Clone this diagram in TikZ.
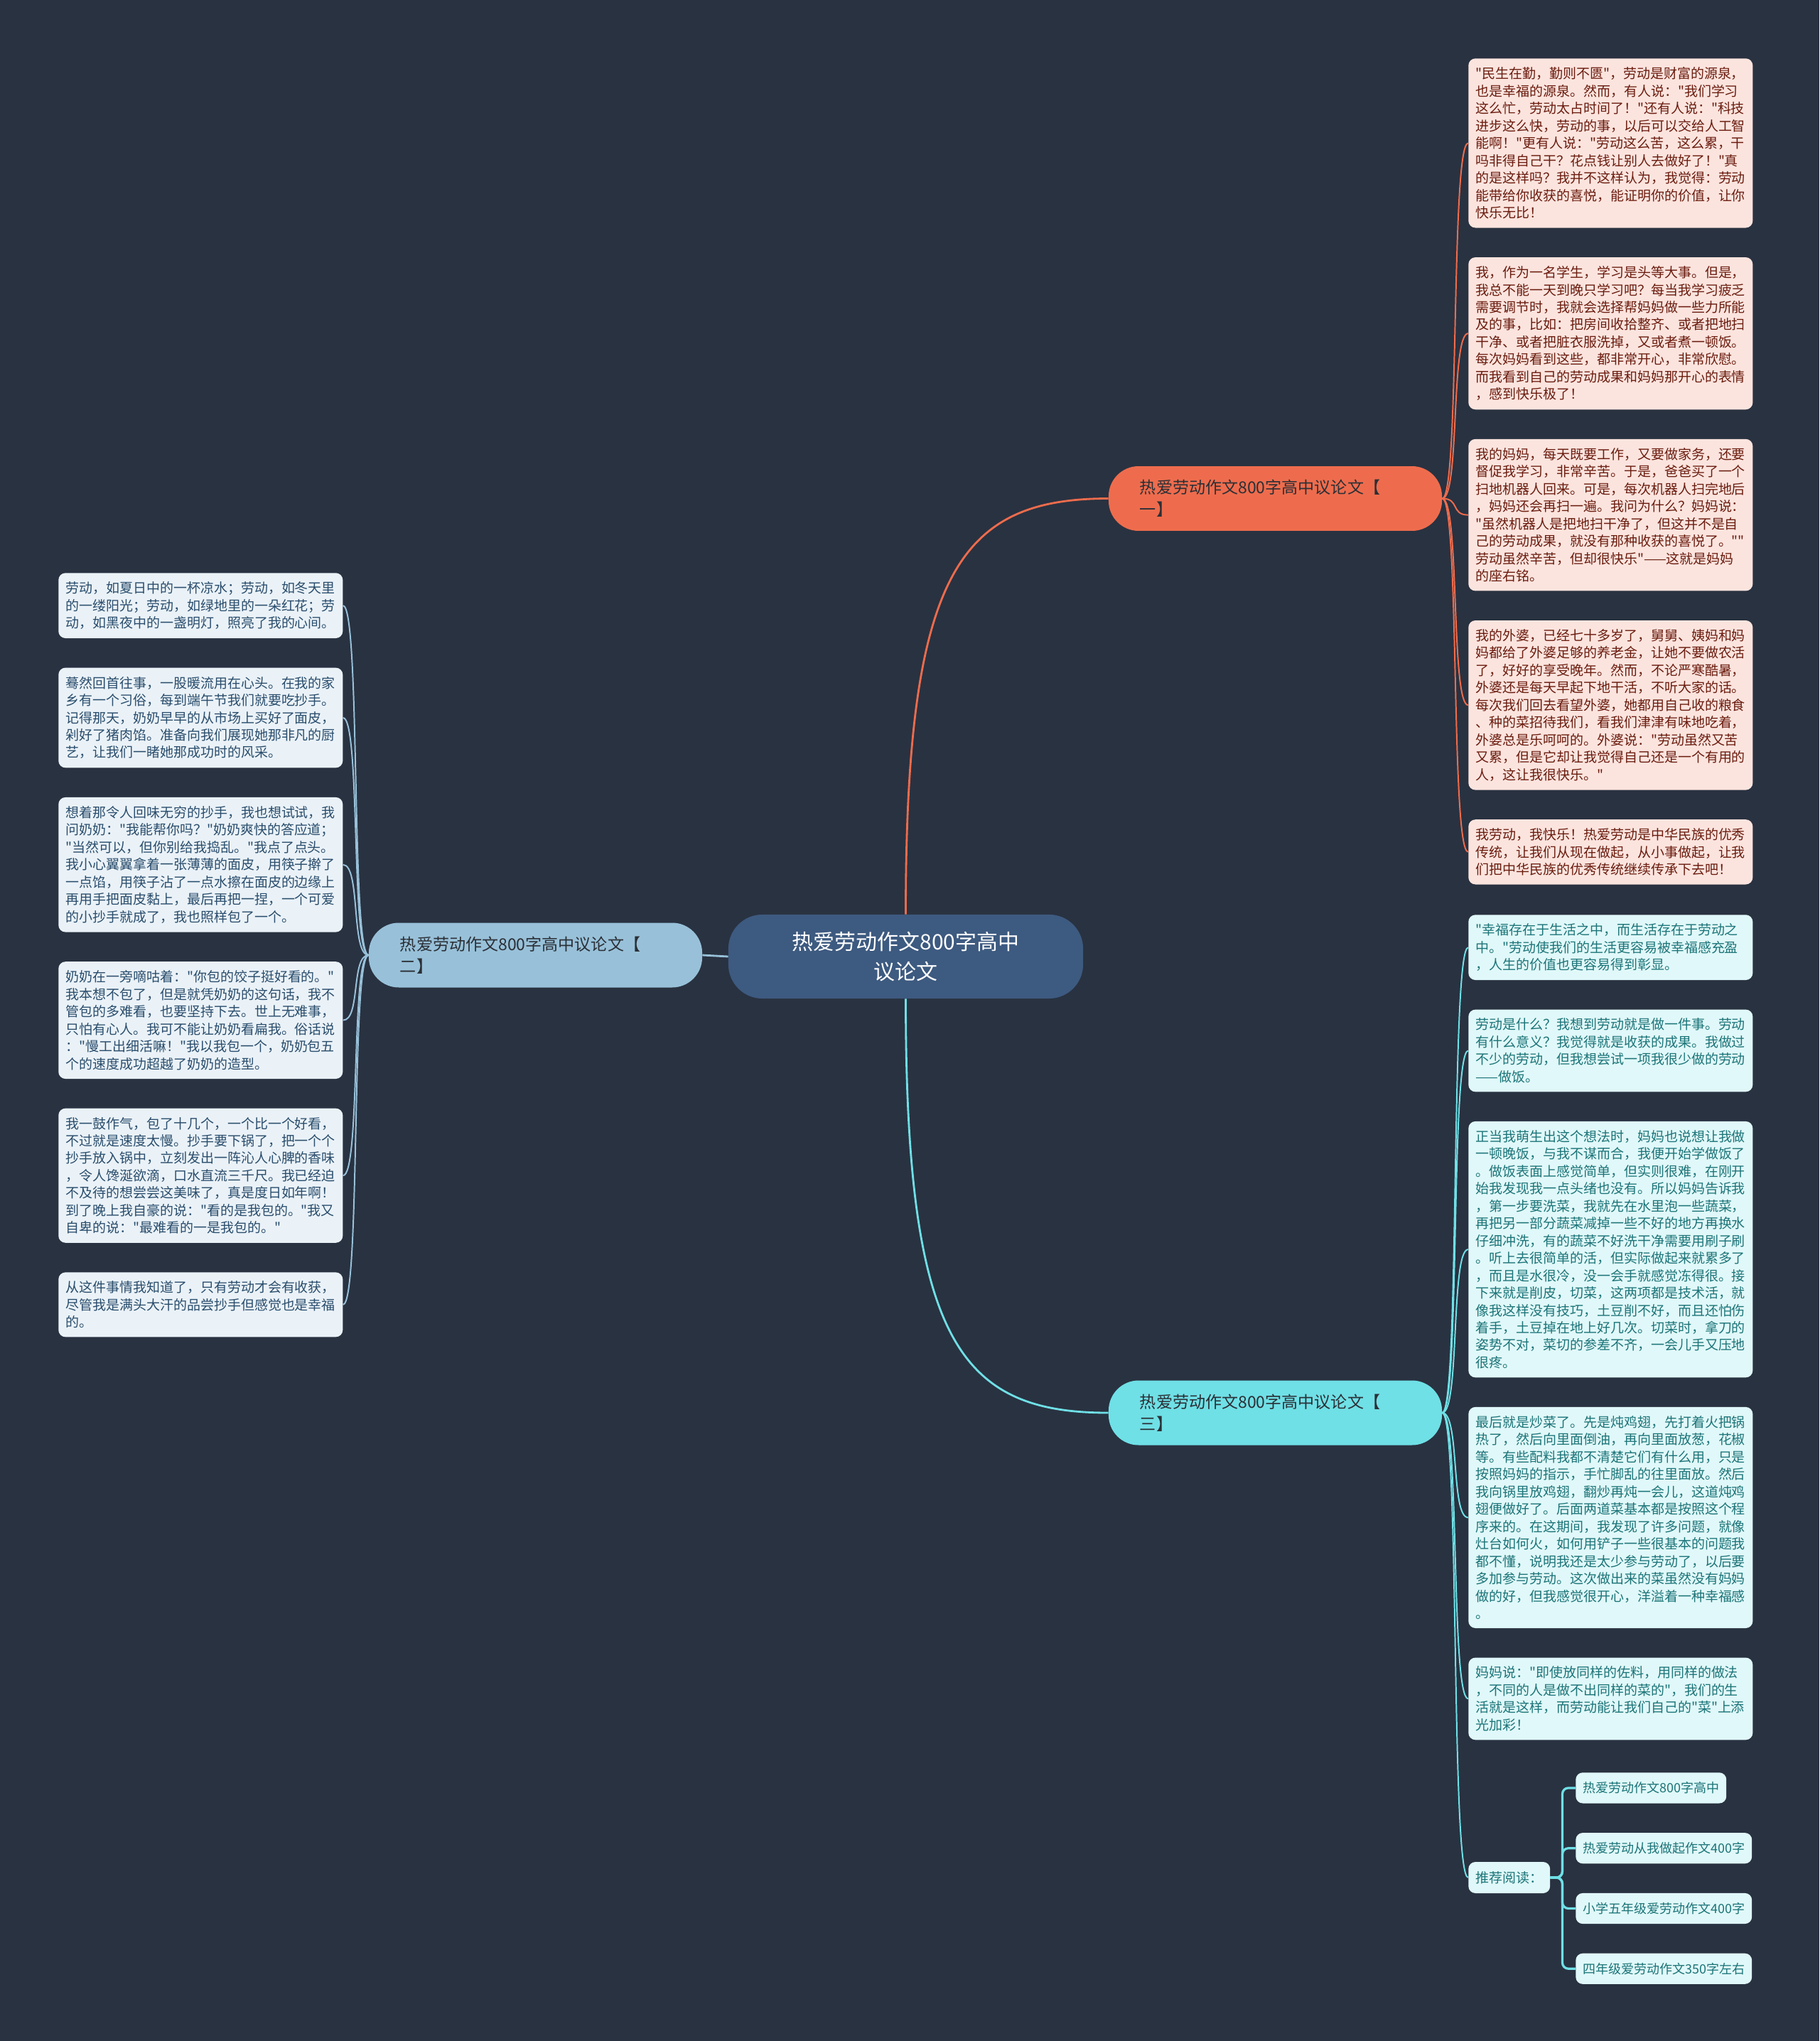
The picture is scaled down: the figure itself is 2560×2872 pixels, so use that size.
\documentclass[tikz,border=0pt]{standalone}
\usepackage{fontspec}
\newfontfamily\zhfont{Noto Sans CJK SC}
\usetikzlibrary{positioning}
\definecolor{bg}{HTML}{293241}
\definecolor{rootblue}{HTML}{3D5A80}
\definecolor{warm}{HTML}{EE6C4D}
\definecolor{sky}{HTML}{98C1D9}
\definecolor{aqua}{HTML}{6FE0E6}
\definecolor{warmpale}{HTML}{FCE4DE}
\definecolor{skypale}{HTML}{EAF2F8}
\definecolor{aquapale}{HTML}{E0F8F9}
\definecolor{warmink}{HTML}{6A1C0F}
\definecolor{skyink}{HTML}{2A4D6C}
\definecolor{aquaink}{HTML}{1C7478}
\definecolor{branchink}{HTML}{2B2F36}

\begin{document}
\begin{tikzpicture}[x=0.025cm,y=-0.025cm,node distance=1.025cm,
root/.style={fill=rootblue,text=white,rounded corners=34pt,align=center,minimum width=355pt,minimum height=84pt,font=\fontsize{21.3pt}{29.9pt}\zhfont},
branch/.style={rounded corners=30pt,align=left,text width=271pt,inner xsep=31.3pt,inner ysep=0pt,minimum height=64.7pt,text=branchink,font=\fontsize{16.4pt}{22pt}\zhfont},
leaf/.style={rounded corners=7pt,align=left,text width=270.3pt,inner xsep=7.1pt,inner ysep=8.8pt,font=\fontsize{13.5pt}{17.4pt}\zhfont},
warmleaf/.style={leaf,fill=warmpale,text=warmink},
skyleaf/.style={leaf,fill=skypale,text=skyink},
aqualeaf/.style={leaf,fill=aquapale,text=aquaink},
recbox/.style={rounded corners=7pt,fill=aquapale,text=aquaink,inner xsep=7.1pt,inner ysep=9.4pt,font=\fontsize{12.8pt}{17.4pt}\zhfont},
mainlink/.style={line width=2pt},
leaflink/.style={line width=1.4pt},
reclink/.style={draw=aqua,line width=2.3pt,rounded corners=6pt}]
\fill[bg] (0,0) rectangle (2560,2872);

\node[root] (root) at (1274.5,1346) {热爱劳动作文800字高中\\议论文};
\node[branch,fill=warm] (b1) at (1794.5,701.5) {热爱劳动作文800字高中议论文【\\一】};
\node[branch,fill=sky] (b2) at (753.5,1344) {热爱劳动作文800字高中议论文【\\二】};
\node[branch,fill=aqua] (b3) at (1794.5,1988) {热爱劳动作文800字高中议论文【\\三】};

\node[warmleaf,anchor=north west] (r1) at (2066,82) {"民生在勤，勤则不匮"，劳动是财富的源泉，\\也是幸福的源泉。然而，有人说："我们学习\\这么忙，劳动太占时间了！"还有人说："科技\\进步这么快，劳动的事，以后可以交给人工智\\能啊！"更有人说："劳动这么苦，这么累，干\\吗非得自己干？花点钱让别人去做好了！"真\\的是这样吗？我并不这样认为，我觉得：劳动\\能带给你收获的喜悦，能证明你的价值，让你\\快乐无比！};
\node[warmleaf,below=of r1] (r2) {我，作为一名学生，学习是头等大事。但是，\\我总不能一天到晚只学习吧？每当我学习疲乏\\需要调节时，我就会选择帮妈妈做一些力所能\\及的事，比如：把房间收拾整齐、或者把地扫\\干净、或者把脏衣服洗掉，又或者煮一顿饭。\\每次妈妈看到这些，都非常开心，非常欣慰。\\而我看到自己的劳动成果和妈妈那开心的表情\\，感到快乐极了！};
\node[warmleaf,below=of r2] (r3) {我的妈妈，每天既要工作，又要做家务，还要\\督促我学习，非常辛苦。于是，爸爸买了一个\\扫地机器人回来。可是，每次机器人扫完地后\\，妈妈还会再扫一遍。我问为什么？妈妈说：\\"虽然机器人是把地扫干净了，但这并不是自\\己的劳动成果，就没有那种收获的喜悦了。""\\劳动虽然辛苦，但却很快乐"——这就是妈妈\\的座右铭。};
\node[warmleaf,below=of r3] (r4) {我的外婆，已经七十多岁了，舅舅、姨妈和妈\\妈都给了外婆足够的养老金，让她不要做农活\\了，好好的享受晚年。然而，不论严寒酷暑，\\外婆还是每天早起下地干活，不听大家的话。\\每次我们回去看望外婆，她都用自己收的粮食\\、种的菜招待我们，看我们津津有味地吃着，\\外婆总是乐呵呵的。外婆说："劳动虽然又苦\\又累，但是它却让我觉得自己还是一个有用的\\人，这让我很快乐。"};
\node[warmleaf,below=of r4] (r5) {我劳动，我快乐！热爱劳动是中华民族的优秀\\传统，让我们从现在做起，从小事做起，让我\\们把中华民族的优秀传统继续传承下去吧！};

\node[skyleaf,anchor=north west] (l1) at (82,806) {劳动，如夏日中的一杯凉水；劳动，如冬天里\\的一缕阳光；劳动，如绿地里的一朵红花；劳\\动，如黑夜中的一盏明灯，照亮了我的心间。};
\node[skyleaf,below=of l1] (l2) {蓦然回首往事，一股暖流用在心头。在我的家\\乡有一个习俗，每到端午节我们就要吃抄手。\\记得那天，奶奶早早的从市场上买好了面皮，\\剁好了猪肉馅。准备向我们展现她那非凡的厨\\艺，让我们一睹她那成功时的风采。};
\node[skyleaf,below=of l2] (l3) {想着那令人回味无穷的抄手，我也想试试，我\\问奶奶："我能帮你吗？"奶奶爽快的答应道；\\"当然可以，但你别给我捣乱。"我点了点头。\\我小心翼翼拿着一张薄薄的面皮，用筷子擀了\\一点馅，用筷子沾了一点水擦在面皮的边缘上\\再用手把面皮黏上，最后再把一捏，一个可爱\\的小抄手就成了，我也照样包了一个。};
\node[skyleaf,below=of l3] (l4) {奶奶在一旁嘀咕着："你包的饺子挺好看的。"\\我本想不包了，但是就凭奶奶的这句话，我不\\管包的多难看，也要坚持下去。世上无难事，\\只怕有心人。我可不能让奶奶看扁我。俗话说\\："慢工出细活嘛！"我以我包一个，奶奶包五\\个的速度成功超越了奶奶的造型。};
\node[skyleaf,below=of l4] (l5) {我一鼓作气，包了十几个，一个比一个好看，\\不过就是速度太慢。抄手要下锅了，把一个个\\抄手放入锅中，立刻发出一阵沁人心脾的香味\\，令人馋涎欲滴，口水直流三千尺。我已经迫\\不及待的想尝尝这美味了，真是度日如年啊！\\到了晚上我自豪的说："看的是我包的。"我又\\自卑的说："最难看的一是我包的。"};
\node[skyleaf,below=of l5] (l6) {从这件事情我知道了，只有劳动才会有收获，\\尽管我是满头大汗的品尝抄手但感觉也是幸福\\的。};

\node[aqualeaf,anchor=north west] (c1) at (2066,1287) {"幸福存在于生活之中，而生活存在于劳动之\\中。"劳动使我们的生活更容易被幸福感充盈\\，人生的价值也更容易得到彰显。};
\node[aqualeaf,below=of c1] (c2) {劳动是什么？我想到劳动就是做一件事。劳动\\有什么意义？我觉得就是收获的成果。我做过\\不少的劳动，但我想尝试一项我很少做的劳动\\——做饭。};
\node[aqualeaf,below=of c2] (c3) {正当我萌生出这个想法时，妈妈也说想让我做\\一顿晚饭，与我不谋而合，我便开始学做饭了\\。做饭表面上感觉简单，但实则很难，在刚开\\始我发现我一点头绪也没有。所以妈妈告诉我\\，第一步要洗菜，我就先在水里泡一些蔬菜，\\再把另一部分蔬菜减掉一些不好的地方再换水\\仔细冲洗，有的蔬菜不好洗干净需要用刷子刷\\。听上去很简单的活，但实际做起来就累多了\\，而且是水很冷，没一会手就感觉冻得很。接\\下来就是削皮，切菜，这两项都是技术活，就\\像我这样没有技巧，土豆削不好，而且还怕伤\\着手，土豆掉在地上好几次。切菜时，拿刀的\\姿势不对，菜切的参差不齐，一会儿手又压地\\很疼。};
\node[aqualeaf,below=of c3] (c4) {最后就是炒菜了。先是炖鸡翅，先打着火把锅\\热了，然后向里面倒油，再向里面放葱，花椒\\等。有些配料我都不清楚它们有什么用，只是\\按照妈妈的指示，手忙脚乱的往里面放。然后\\我向锅里放鸡翅，翻炒再炖一会儿，这道炖鸡\\翅便做好了。后面两道菜基本都是按照这个程\\序来的。在这期间，我发现了许多问题，就像\\灶台如何火，如何用铲子一些很基本的问题我\\都不懂，说明我还是太少参与劳动了，以后要\\多加参与劳动。这次做出来的菜虽然没有妈妈\\做的好，但我感觉很开心，洋溢着一种幸福感\\。};
\node[aqualeaf,below=of c4] (c5) {妈妈说："即使放同样的佐料，用同样的做法\\，不同的人是做不出同样的菜的"，我们的生\\活就是这样，而劳动能让我们自己的"菜"上添\\光加彩！};
\node[recbox,font=\fontsize{13.5pt}{17.4pt}\zhfont,anchor=west] (rec) at (2066,2642) {推荐阅读：};
\node[recbox,anchor=north west] (k1) at (2217,2494) {热爱劳动作文800字高中};
\node[recbox,below=of k1.south west,anchor=north west] (k2) {热爱劳动从我做起作文400字};
\node[recbox,below=of k2.south west,anchor=north west] (k3) {小学五年级爱劳动作文400字};
\node[recbox,below=of k3.south west,anchor=north west] (k4) {四年级爱劳动作文350字左右};

\draw[mainlink,warm] (root.north) .. controls +(0,-480) and +(-210,0) .. (b1.west);
\draw[mainlink,aqua] (root.south) .. controls +(0,480) and +(-210,0) .. (b3.west);
\draw[mainlink,sky] (root.west) -- (b2.east);
\foreach \n in {r1,r2,r3,r4,r5}
  \draw[leaflink,warm] (b1.east) .. controls +(25,0) and +(-25,0) .. (\n.west);
\foreach \n in {l1,l2,l3,l4,l5,l6}
  \draw[leaflink,sky] (b2.west) .. controls +(-25,0) and +(25,0) .. (\n.east);
\foreach \n in {c1,c2,c3,c4,c5,rec}
  \draw[leaflink,aqua] (b3.east) .. controls +(25,0) and +(-25,0) .. (\n.west);
\foreach \n in {k1,k2,k3,k4}
  \draw[reclink] (rec.east) -- ++(17,0) |- (\n.west);
\end{tikzpicture}
\end{document}
